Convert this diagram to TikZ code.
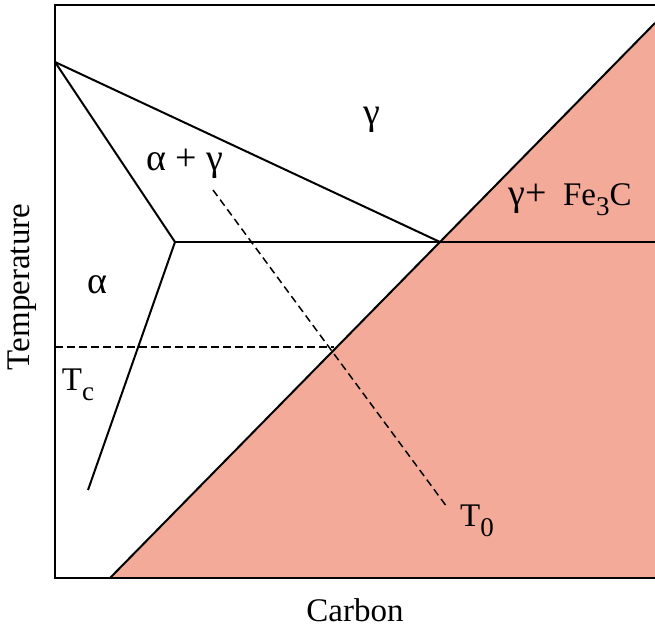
\documentclass[tikz,border=0pt]{standalone}
\usepackage{fontspec}
\setmainfont{Liberation Serif}
\definecolor{cementite}{RGB}{243,170,152}
\newcommand{\subsz}[1]{\raisebox{-10pt}{\fontsize{27}{30}\selectfont #1}}
\newcommand{\grk}[1]{{\fontsize{38}{40}\selectfont #1}}
\tikzset{
  phase/.style={line width=2pt,line join=round},
  tline/.style={line width=1.5pt,dash pattern=on 7.5pt off 4.5pt},
  lbl/.style={inner sep=0pt,font=\fontsize{33}{36}\selectfont}
}

\begin{document}
\begin{tikzpicture}[x=1pt,y=-1pt]
  \useasboundingbox (0,0) rectangle (655,631);
  % corners and phase boundary points
  \coordinate (tl) at (55,5);
  \coordinate (tr) at (655,5);
  \coordinate (bl) at (55,578);
  \coordinate (br) at (655,578);
  \coordinate (a3) at (55,62);
  \coordinate (eut) at (175,242);
  \coordinate (acm) at (440,242);
  \coordinate (rr) at (655,242);
  \coordinate (low) at (88,490);
  \coordinate (cb) at (110,578);
  \coordinate (ct) at (655,23);
  \coordinate (tcl) at (55,347);
  \coordinate (tcr) at (334,347);
  \coordinate (t0a) at (213,190);
  \coordinate (t0b) at (447,507);
  % cementite field
  \fill[cementite] (cb) -- (ct) -- (br) -- cycle;
  \draw[phase] (cb) -- (ct);
  % frame
  \draw[line width=2.5pt] (tr) -- (tl) -- (bl) -- (br);
  % boundaries
  \draw[phase] (a3) -- (acm);
  \draw[phase] (a3) -- (eut) -- (low);
  \draw[phase] (eut) -- (rr);
  % dashed lines
  \draw[tline] (tcl) -- (tcr);
  \draw[tline] (t0a) -- (t0b);
  % labels
  \node[lbl] (gam) at (372,120) {\grk{γ}};
  \node[lbl] (agam) at (185,164) {\grk{α + γ}};
  \node[lbl,anchor=base] (gfe) at (570,205) {\grk{γ+} \ Fe\subsz{3}C};
  \node[lbl] (alp) at (97,285) {\grk{α}};
  \node[lbl,anchor=base] (tc) at (78,390) {T\subsz{c}};
  \node[lbl,anchor=base] (tz) at (477,526) {T\subsz{0}};
  \node[lbl,rotate=90] (ylab) at (22,287) {Temperature};
  \node[lbl] (xlab) at (355,610) {Carbon};
\end{tikzpicture}
\end{document}
